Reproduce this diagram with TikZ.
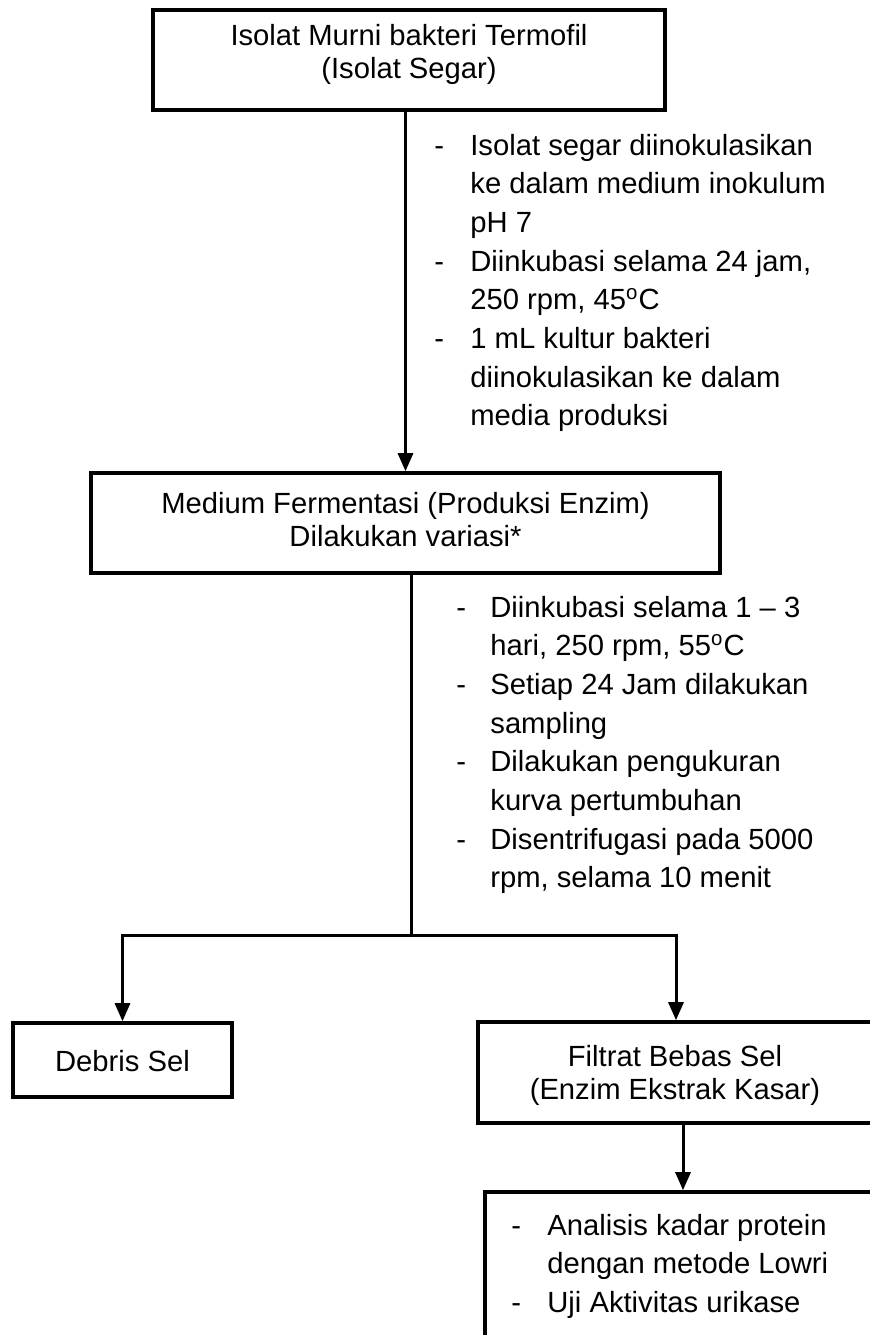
\documentclass[tikz,border=0pt]{standalone}
\usepackage{fontspec}
\setmainfont{Liberation Sans}
\usetikzlibrary{arrows.meta}

\begin{document}
\begin{tikzpicture}[x=0.5pt,y=-0.5pt,
  box/.style={draw, rectangle, line width=1.8pt, inner sep=0pt},
  link/.style={line width=1.5pt},
  arr/.style={link, -{Triangle[length=9pt,width=7.5pt]}},
  boxtext/.style={inner sep=0pt, anchor=base, font=\fontsize{14.6pt}{16.8pt}\selectfont},
  steps/.style={inner sep=0pt, anchor=base west, font=\fontsize{14.6pt}{19.35pt}\selectfont}]
\useasboundingbox (0,0) rectangle (870,1335);
\clip (0,0) rectangle (870,1335);

% process boxes
\node[box, minimum width=256pt, minimum height=50pt] (isolat) at (409,60) {};
\node[box, minimum width=314.5pt, minimum height=50pt] (medium) at (405.5,523) {};
\node[box, minimum width=109.5pt, minimum height=37pt] (debris) at (122.5,1060) {};
\node[box, minimum width=198pt, minimum height=50.5pt] (filtrat) at (676,1072.5) {};
\node[box, minimum width=198pt, minimum height=94pt] (analisis) at (683,1286) {};

% box captions
\node[boxtext] (isolatT) at (409,45) {\begin{tabular}[t]{@{}c@{}}Isolat Murni bakteri Termofil\\(Isolat Segar)\end{tabular}};
\node[boxtext] (mediumT) at (405.5,513) {\begin{tabular}[t]{@{}c@{}}Medium Fermentasi (Produksi Enzim)\\Dilakukan variasi*\end{tabular}};
\node[boxtext] (debrisT) at (122.5,1071) {Debris Sel};
\node[boxtext] (filtratT) at (675,1066) {\begin{tabular}[t]{@{}c@{}}Filtrat Bebas Sel\\(Enzim Ekstrak Kasar)\end{tabular}};

% step lists beside the connectors
\node[steps] (stepsA) at (434,155) {\begin{tabular}[t]{@{}p{18pt}@{}l@{}}
-&Isolat segar diinokulasikan\\
 &ke dalam medium inokulum\\
 &pH 7\\
-&Diinkubasi selama 24 jam,\\
 &250 rpm, 45\textsuperscript{o}C\\
-&1 mL kultur bakteri\\
 &diinokulasikan ke dalam\\
 &media produksi
\end{tabular}};
\node[steps] (stepsB) at (456,617) {\begin{tabular}[t]{@{}p{17pt}@{}l@{}}
-&Diinkubasi selama 1 – 3\\
 &hari, 250 rpm, 55\textsuperscript{o}C\\
-&Setiap 24 Jam dilakukan\\
 &sampling\\
-&Dilakukan pengukuran\\
 &kurva pertumbuhan\\
-&Disentrifugasi pada 5000\\
 &rpm, selama 10 menit
\end{tabular}};
\node[steps] (stepsC) at (511,1235) {\begin{tabular}[t]{@{}p{18pt}@{}l@{}}
-&Analisis kadar protein\\
 &dengan metode Lowri\\
-&Uji Aktivitas urikase
\end{tabular}};

% connectors
\coordinate (split) at (411,935);
\draw[arr] (isolat.south -| medium.north) -- (medium.north);
\draw[link] ([xshift=2.75pt]medium.south) -- (split);
\draw[arr] (split) -- (split -| debris.north) -- (debris.north);
\draw[arr] (split) -- (split -| filtrat.north) -- (filtrat.north);
\draw[arr] (filtrat.south -| analisis.north) -- (analisis.north);
\end{tikzpicture}
\end{document}
